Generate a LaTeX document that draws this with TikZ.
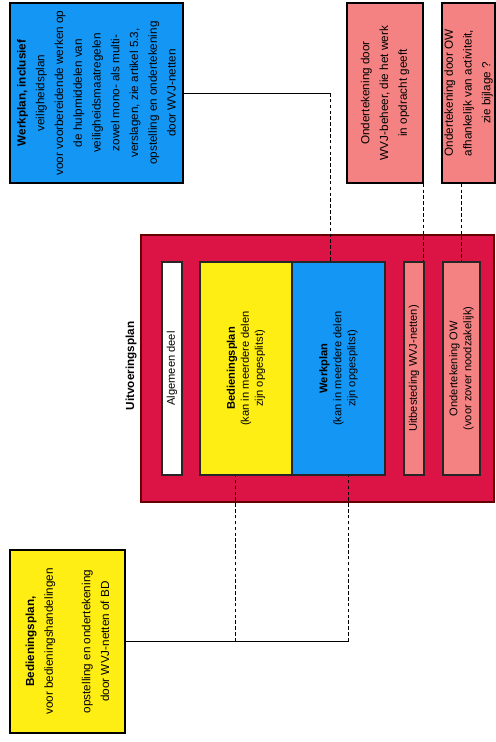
\documentclass[tikz,border=0pt]{standalone}
\usepackage{fontspec}
\setmainfont{Liberation Sans}
\usetikzlibrary{positioning}

\definecolor{werkblauw}{RGB}{20,150,245}
\definecolor{bedgeel}{RGB}{255,238,20}
\definecolor{handroze}{RGB}{245,130,130}
\definecolor{uitrood}{RGB}{220,20,70}

\tikzset{
  doos/.style={draw=black, line width=1.2pt, rotate=90, align=center, inner sep=2pt,
    font=\fontsize{10}{16}\selectfont},
  binnendoos/.style={draw=black!85, line width=0.9pt, rotate=90, align=center, inner sep=1pt,
    minimum width=6.39cm, font=\fontsize{9.5}{12}\selectfont},
  lijn/.style={line width=0.6pt},
  stippel/.style={line width=0.6pt, densely dashed},
}

\begin{document}
\begin{tikzpicture}[x=0.03cm,y=-0.03cm]
		\fill[white] (0,0) rectangle (496,742);
		\useasboundingbox (0,0) rectangle (496,742);
		
		% Losse plannen boven en onder
		\node[doos, fill=werkblauw, minimum width=5.4cm, minimum height=5.19cm] (werk) at (96.5,93)
			{\textbf{Werkplan, inclusief}\\ veiligheidsplan\\ voor voorbereidende werken op\\ de hulpmiddelen van\\
			 veiligheidsmaatregelen\\ zowel mono- als multi-\\ verslagen, zie artikel 5.3,\\ opstelling en ondertekening\\ door WVJ-netten};
		\node[doos, fill=handroze, minimum width=5.4cm, minimum height=2.28cm] (bevA) at (385,93)
			{Ondertekening door\\ WVJ-beheer, die het werk\\ in opdracht geeft};
		\node[doos, fill=handroze, minimum width=5.4cm, minimum height=1.59cm] (bevB) at (468.5,93)
			{Ondertekening door OW\\ afhankelijk van activiteit,\\ zie bijlage ?};
		\node[doos, fill=bedgeel, minimum width=5.49cm, minimum height=3.45cm] (bedplan) at (67.5,641.5)
			{\textbf{Bedieningsplan,}\\ voor bedieningshandelingen\\[16pt] opstelling en ondertekening\\ door WVJ-netten of BD};
		
		% Uitvoeringsplan
		\node[draw=black!60!red, line width=1.4pt, fill=uitrood, rotate=90,
			minimum width=8.01cm, minimum height=10.59cm] (uitvoering) at (317.5,368.5) {};
		\node[rotate=90, font=\fontsize{10}{12}\selectfont\bfseries] (titel) at (131,366) {Uitvoeringsplan};
		\node[binnendoos, fill=white, minimum height=0.6cm] (algemeen) at (172,368.5) {Algemeen deel};
		\node[binnendoos, fill=bedgeel, minimum height=2.76cm] (bedinner) at (246,368.5)
			{\textbf{Bedieningsplan}\\ (kan in meerdere delen\\ zijn opgesplitst)};
		\node[binnendoos, fill=werkblauw, minimum height=2.79cm] (werkinner) at (338.5,368.5)
			{\textbf{Werkplan}\\ (kan in meerdere delen\\ zijn opgesplitst)};
		\node[binnendoos, fill=handroze, minimum height=0.6cm] (wvj) at (414,368.5) {Uitbesteding WVJ-netten)};
		\node[binnendoos, fill=handroze, minimum height=1.11cm] (ow) at (461.5,368.5)
			{Ondertekening OW\\ (voor zover noodzakelijk)};
		
		% Verbindingen
		\coordinate (knikW) at (330,93);
		\draw[lijn] (werk.south) -- (knikW);
		\draw[stippel] (knikW) -- (knikW |- werkinner.east);
		\draw[stippel] (bevA.south west) -- (bevA.south west |- wvj.east);
		\draw[stippel] (ow.east |- bevB.west) -- (ow.east);
		
		\coordinate (knikB) at (348,641.5);
		\coordinate (knikC) at (235,641.5);
		\draw[lijn] (bedplan.south) -- (knikB);
		\draw[stippel] (knikB) -- (knikB |- werkinner.west);
		\draw[stippel] (knikC) -- (knikC |- bedinner.west);
	\end{tikzpicture}
\end{document}
